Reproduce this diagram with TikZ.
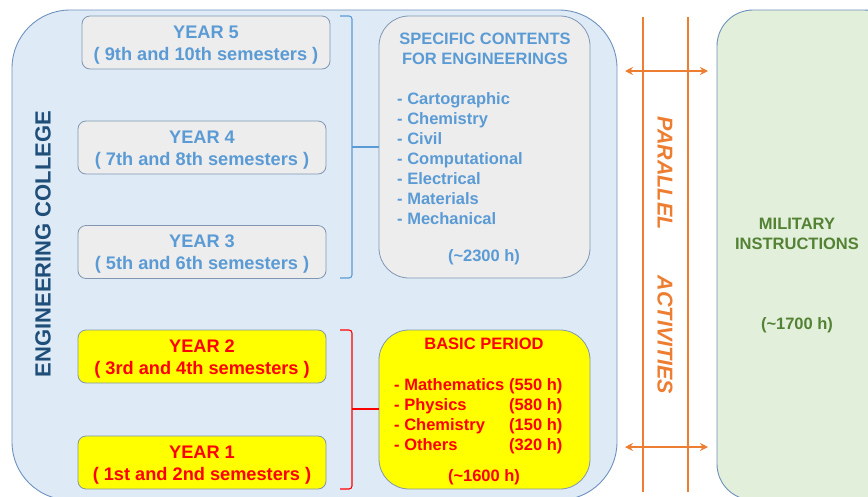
\documentclass[tikz,border=0pt]{standalone}
\usepackage{fontspec}
\setmainfont{Liberation Sans}
\usetikzlibrary{arrows.meta}
\definecolor{bigfill}{RGB}{222,235,247}
\definecolor{bigdraw}{RGB}{110,145,190}
\definecolor{grayfill}{RGB}{237,237,237}
\definecolor{boxdraw}{RGB}{128,150,178}
\definecolor{txtblue}{RGB}{91,155,213}
\definecolor{darkblue}{RGB}{31,78,121}
\definecolor{txtred}{RGB}{255,0,0}
\definecolor{yel}{RGB}{255,255,0}
\definecolor{orng}{RGB}{237,125,49}
\definecolor{grnfill}{RGB}{226,239,218}
\definecolor{grntxt}{RGB}{84,130,53}
\tikzset{
  yearbox/.style={draw=boxdraw, line width=0.8pt, rounded corners=8pt, minimum width=248pt, minimum height=53pt, inner sep=0pt},
  yeartext/.style={inner sep=0pt, align=center, font=\fontsize{18.2}{22}\selectfont\bfseries},
  upyear/.style={yearbox, fill=grayfill},
  lowyear/.style={yearbox, fill=yel},
  bigbox/.style={draw=boxdraw, line width=0.8pt, rounded corners=30pt, minimum width=211pt, inner sep=0pt},
  body/.style={font=\fontsize{16.5}{20}\selectfont\bfseries, inner sep=0pt},
  brace/.style={line width=1.1pt, rounded corners=3pt},
  oline/.style={draw=orng, line width=1.5pt},
  oarrow/.style={draw=orng, line width=1.8pt, {Stealth[length=8pt,width=8pt]}-{Stealth[length=8pt,width=8pt]}},
  ptext/.style={rotate=-90, text=orng, font=\fontsize{21.5}{24}\selectfont\bfseries\itshape},
}
\begin{document}
\begin{tikzpicture}[x=1pt,y=-1pt]
\useasboundingbox (0,0) rectangle (868,496);
% big engineering college box
\draw[fill=bigfill, draw=bigdraw, line width=0.9pt, rounded corners=58pt] (12,10) rectangle (617,500);
% military box
\draw[fill=grnfill, draw=bigdraw, line width=0.9pt, rounded corners=36pt] (717,10) rectangle (900,500);

\node[rotate=90, text=darkblue, font=\fontsize{22}{24}\selectfont\bfseries] (eng) at (43,244) {ENGINEERING COLLEGE};

% years
\node[upyear] (y5) at (206,42.5) {};
\node[upyear] (y4) at (202,147.5) {};
\node[upyear] (y3) at (202,252) {};
\node[lowyear] (y2) at (202,356.5) {};
\node[lowyear] (y1) at (202,462.5) {};
\node[yeartext, text=txtblue] (y5t) at ([yshift=-2.5pt]y5.center) {YEAR 5\\( 9th and 10th semesters )};
\node[yeartext, text=txtblue] (y4t) at ([yshift=-2.5pt]y4.center) {YEAR 4\\( 7th and 8th semesters )};
\node[yeartext, text=txtblue] (y3t) at ([yshift=-2.5pt]y3.center) {YEAR 3\\( 5th and 6th semesters )};
\node[yeartext, text=txtred] (y2t) at ([yshift=-2.5pt]y2.center) {YEAR 2\\( 3rd and 4th semesters )};
\node[yeartext, text=txtred] (y1t) at ([yshift=-2.5pt]y1.center) {YEAR 1\\( 1st and 2nd semesters )};

% specific contents box
\node[bigbox, fill=grayfill, minimum height=262pt] (spec) at (484.5,147) {};
\node[body, text=txtblue, align=center] (spect) at (485,49) {SPECIFIC CONTENTS\\FOR ENGINEERINGS};
\node[body, text=txtblue, align=left, anchor=west] (specl) at (397,159) {- Cartographic\\- Chemistry\\- Civil\\- Computational\\- Electrical\\- Materials\\- Mechanical};
\node[body, text=txtblue] (spech) at (484,257) {(\textasciitilde2300 h)};

% basic period box
\node[bigbox, fill=yel, minimum height=159pt] (basic) at (484.5,409.5) {};
\node[body, text=txtred] (basict) at (484,344) {BASIC PERIOD};
\node[body, text=txtred, align=left, anchor=west] (basicl) at (394,416) {\makebox[115pt][l]{- Mathematics}(550 h)\\\makebox[115pt][l]{- Physics}(580 h)\\\makebox[115pt][l]{- Chemistry}(150 h)\\\makebox[115pt][l]{- Others}(320 h)};
\node[body, text=txtred] (basich) at (484,477) {(\textasciitilde1600 h)};

% braces
\coordinate (bt) at (340,16);
\coordinate (bb) at (340,278);
\coordinate (bm) at (352,147);
\draw[brace, draw=txtblue] (bt) -- (352,16) -- (352,278) -- (bb);
\draw[draw=txtblue, line width=1.1pt] (bm) -- (spec.west |- bm);
\coordinate (rt) at (340,330);
\coordinate (rb) at (340,489);
\coordinate (rm) at (352,409);
\draw[brace, draw=txtred] (rt) -- (352,330) -- (352,489) -- (rb);
\draw[draw=txtred, line width=1.1pt] (rm) -- (basic.west |- rm);

% parallel activities
\coordinate (l1t) at (643,17);
\coordinate (l1b) at (643,492);
\coordinate (l2t) at (688,17);
\coordinate (l2b) at (688,492);
\draw[oline] (l1t) -- (l1b);
\draw[oline] (l2t) -- (l2b);
\coordinate (a1l) at (625,71);
\coordinate (a1r) at (708,71);
\coordinate (a2l) at (625,447);
\coordinate (a2r) at (708,447);
\draw[oarrow] (a1l) -- (a1r);
\draw[oarrow] (a2l) -- (a2r);
\node[ptext] (par) at (665,173) {PARALLEL};
\node[ptext] (act) at (665,335) {ACTIVITIES};

% military text
\node[body, text=grntxt, align=center] (mil) at (797,234) {MILITARY\\INSTRUCTIONS};
\node[body, text=grntxt] (milh) at (797,325) {(\textasciitilde1700 h)};
\end{tikzpicture}
\end{document}
